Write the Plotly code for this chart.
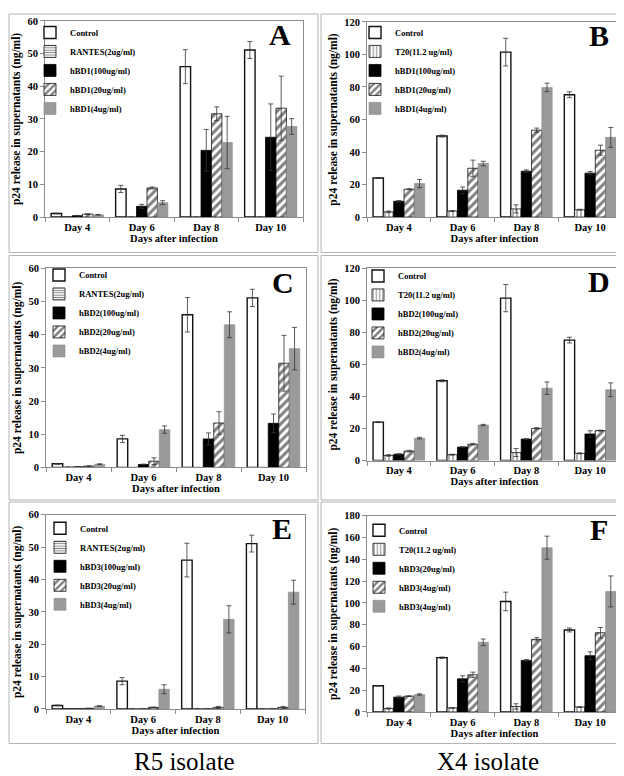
import plotly.graph_objects as go

W, H = 624, 776

days = ["Day 4", "Day 6", "Day 8", "Day 10"]

# shared controls
control_r5 = [1.1, 8.6, 46.0, 51.1]
control_r5_err = [0.1, 1.1, 5.2, 2.6]
control_x4 = [24.0, 49.8, 101.4, 75.2]
control_x4_err = [0.3, 0.6, 8.5, 1.8]
rantes = [0.1, 0, 0, 0]
rantes_err = [0, 0, 0, 0]
t20 = [3.2, 3.7, 5.0, 4.5]
t20_err = [0.5, 0.3, 2.5, 0.3]

# panel A (R5, hBD1)
a_100 = [0.4, 3.3, 20.4, 24.4]
a_100_err = [0.1, 0.6, 6.4, 10.2]
a_20 = [0.9, 8.9, 31.6, 33.3]
a_20_err = [0.1, 0.3, 2.1, 9.8]
a_4 = [0.7, 4.4, 22.8, 27.7]
a_4_err = [0.1, 0.6, 8.0, 2.4]

# panel B (X4, hBD1)
b_100 = [9.7, 16.5, 28.2, 27.0]
b_100_err = [0.5, 2.0, 0.8, 1.0]
b_20 = [17.1, 30.0, 53.4, 41.1]
b_20_err = [0.3, 5.0, 1.3, 3.1]
b_4 = [20.6, 32.9, 79.7, 49.0]
b_4_err = [2.5, 1.4, 2.6, 6.1]

# panel C (R5, hBD2)
c_100 = [0.2, 0.9, 8.6, 13.3]
c_100_err = [0, 0.1, 1.8, 2.8]
c_20 = [0.4, 1.9, 13.4, 31.4]
c_20_err = [0.1, 1.0, 3.4, 8.4]
c_4 = [1.0, 11.4, 43.0, 35.8]
c_4_err = [0.1, 1.1, 3.9, 6.4]

# panel D (X4, hBD2)
d_100 = [4.0, 8.4, 13.4, 16.6]
d_100_err = [0.3, 0.3, 0.3, 2.0]
d_20 = [5.9, 10.2, 20.1, 18.7]
d_20_err = [0.5, 0.5, 0.4, 0.3]
d_4 = [14.0, 22.2, 45.2, 44.2]
d_4_err = [0.5, 0.4, 3.9, 4.3]

# panel E (R5, hBD3)
e_100 = [0.05, 0, 0, 0]
e_100_err = [0, 0, 0, 0]
e_20 = [0.2, 0.5, 0.5, 0.5]
e_20_err = [0, 0.1, 0.3, 0.3]
e_4 = [0.9, 6.1, 27.7, 36.1]
e_4_err = [0.1, 1.4, 4.2, 3.7]

# panel F (X4, hBD3)
f_20 = [13.6, 30.4, 47.3, 51.6]
f_20_err = [1.0, 2.8, 0.7, 3.6]
f_4h = [14.5, 34.1, 66.6, 72.7]
f_4h_err = [0.3, 2.4, 1.5, 4.8]
f_4 = [16.0, 63.9, 150.7, 110.6]
f_4_err = [0.6, 3.0, 10.6, 14.2]

FONT = "Liberation Serif"

# style for the five bar kinds
def style(kind):
    if kind == "control":
        return dict(color="white", line=dict(color="#111", width=1.4))
    if kind == "rantes":
        return dict(color="white", line=dict(color="#111", width=0.8),
                    pattern=dict(shape="-", fgcolor="black", bgcolor="white", size=3, solidity=0.4))
    if kind == "t20":
        return dict(color="white", line=dict(color="#111", width=0.8),
                    pattern=dict(shape="|", fgcolor="black", bgcolor="white", size=4, solidity=0.3))
    if kind == "black":
        return dict(color="black", line=dict(color="black", width=0.8))
    if kind == "hatch":
        return dict(color="white", line=dict(color="#111", width=0.8),
                    pattern=dict(shape="/", fgcolor="black", bgcolor="white", size=6, solidity=0.5))
    return dict(color="#9a9a9a", line=dict(color="#8a8a8a", width=0.6))

panels = [
    # letter, names, series, errors, kinds, domain px (x0,x1,ytop,ybot), ymax, dtick, legend px
    ("A", ["Control", "RANTES(2ug/ml)", "hBD1(100ug/ml)", "hBD1(20ug/ml)", "hBD1(4ug/ml)"],
     [control_r5, rantes, a_100, a_20, a_4], [control_r5_err, rantes_err, a_100_err, a_20_err, a_4_err],
     ["control", "rantes", "black", "hatch", "gray"], (37, 295, 8, 207), 60, 10, (22, 5)),
    ("B", ["Control", "T20(11.2 ug/ml)", "hBD1(100ug/ml)", "hBD1(20ug/ml)", "hBD1(4ug/ml)"],
     [control_x4, t20, b_100, b_20, b_4], [control_x4_err, t20_err, b_100_err, b_20_err, b_4_err],
     ["control", "t20", "black", "hatch", "gray"], (359, 614, 9, 207), 120, 20, (347, 5)),
    ("C", ["Control", "RANTES(2ug/ml)", "hBD2(100ug/ml)", "hBD2(20ug/ml)", "hBD2(4ug/ml)"],
     [control_r5, rantes, c_100, c_20, c_4], [control_r5_err, rantes_err, c_100_err, c_20_err, c_4_err],
     ["control", "rantes", "black", "hatch", "gray"], (38, 298, 259, 461), 60, 10, (31, 251)),
    ("D", ["Control", "T20(11.2 ug/ml)", "hBD2(100ug/ml)", "hBD2(20ug/ml)", "hBD2(4ug/ml)"],
     [control_x4, t20, d_100, d_20, d_4], [control_x4_err, t20_err, d_100_err, d_20_err, d_4_err],
     ["control", "t20", "black", "hatch", "gray"], (359, 614, 259, 454), 120, 20, (350, 252)),
    ("E", ["Control", "RANTES(2ug/ml)", "hBD3(100ug/ml)", "hBD3(20ug/ml)", "hBD3(4ug/ml)"],
     [control_r5, rantes, e_100, e_20, e_4], [control_r5_err, rantes_err, e_100_err, e_20_err, e_4_err],
     ["control", "rantes", "black", "hatch", "gray"], (38, 297, 509, 706), 60, 10, (32, 508)),
    ("F", ["Control", "T20(11.2 ug/ml)", "hBD3(20ug/ml)", "hBD3(4ug/ml)", "hBD3(4ug/ml)"],
     [control_x4, t20, f_20, f_4h, f_4], [control_x4_err, t20_err, f_20_err, f_4h_err, f_4_err],
     ["control", "t20", "black", "hatch", "gray"], (359, 614, 510, 709), 180, 20, (351, 510)),
]

# panel frames (px): x0, y0, x1, y1
frames = [(1, 1, 310, 243), (313, 1, 622, 243),
          (1, 246, 310, 494), (313, 246, 622, 494),
          (1, 496, 310, 741), (313, 496, 622, 741)]

fig = go.Figure()
layout = {}
annotations = []
shapes = []

for i, (letter, names, series, errs, kinds, dom, ymax, dtick, leg) in enumerate(panels):
    n = "" if i == 0 else str(i + 1)
    lg = "legend" + n
    for name, vals, err, kind in zip(names, series, errs, kinds):
        fig.add_trace(go.Bar(
            x=days, y=vals, name=name, marker=style(kind),
            error_y=dict(type="data", array=err, color="#333", thickness=0.8, width=2.5),
            xaxis="x" + n, yaxis="y" + n, legend=lg,
        ))
    x0, x1, yt, yb = dom
    layout["xaxis" + n] = dict(
        domain=[x0 / W, x1 / W], anchor="y" + n, showline=True, mirror=True,
        linecolor="#8c8c8c", linewidth=1, ticks="outside", tickson="boundaries",
        ticklen=4, tickcolor="#8c8c8c",
        tickfont=dict(family=FONT, size=10.5, color="black", weight="bold"),
        title=dict(text="Days after infection", standoff=1,
                   font=dict(family=FONT, size=10.5, color="black", weight="bold")),
    )
    layout["yaxis" + n] = dict(
        domain=[1 - yb / H, 1 - yt / H], anchor="x" + n, range=[0, ymax], dtick=dtick,
        showline=True, mirror=True, linecolor="#8c8c8c", linewidth=1, showgrid=False,
        ticks="outside", ticklen=4, tickcolor="#8c8c8c", zeroline=False,
        tickfont=dict(family=FONT, size=10.5, color="black", weight="bold"),
        title=dict(text="p24 release in supernatants (ng/ml)", standoff=4,
                   font=dict(family=FONT, size=11.5, color="black", weight="bold")),
    )
    layout[lg] = dict(
        x=leg[0] / W, y=1 - leg[1] / H, xanchor="left", yanchor="top",
        bgcolor="rgba(0,0,0,0)", itemwidth=30,
        font=dict(family=FONT, size=8.5, color="black", weight="bold"),
    )
    annotations.append(dict(
        text=letter, xref="x" + n + " domain", yref="y" + n + " domain",
        x=0.91, y=0.93, showarrow=False, xanchor="center", yanchor="middle",
        font=dict(family=FONT, size=30, color="black", weight="bold"),
    ))

for fx0, fy0, fx1, fy1 in frames:
    shapes.append(dict(type="rect", xref="paper", yref="paper",
                       x0=fx0 / W, x1=fx1 / W, y0=1 - fy1 / H, y1=1 - fy0 / H,
                       line=dict(color="#b4b4b4", width=1)))

annotations.append(dict(text="R5 isolate", xref="paper", yref="paper", x=176 / W, y=1 - 759 / H,
                        xanchor="center", yanchor="middle",
                        showarrow=False, font=dict(family=FONT, size=25, color="black")))
annotations.append(dict(text="X4 isolate", xref="paper", yref="paper", x=480 / W, y=1 - 759 / H,
                        xanchor="center", yanchor="middle",
                        showarrow=False, font=dict(family=FONT, size=25, color="black")))

fig.update_layout(
    width=W, height=H, margin=dict(l=0, r=0, t=0, b=0),
    paper_bgcolor="white", plot_bgcolor="white",
    barmode="group", bargap=0.19, bargroupgap=0,
    showlegend=True, annotations=annotations, shapes=shapes,
    **layout,
)

fig.write_html("out.html")
